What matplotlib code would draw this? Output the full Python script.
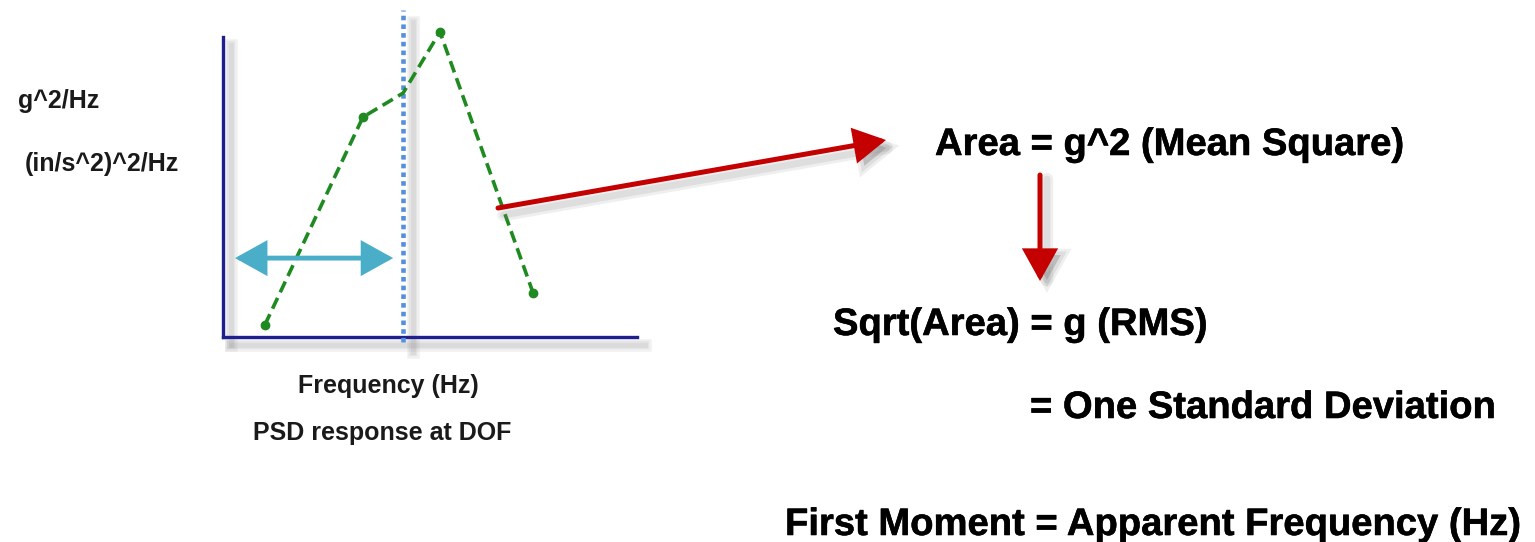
import matplotlib
matplotlib.use("Agg")
import matplotlib.pyplot as plt
import matplotlib.patheffects as pe

plt.rcParams['font.family'] = ['Liberation Sans', 'DejaVu Sans']
plt.rcParams['font.weight'] = 'bold'

# PSD response curve (arbitrary units, axis runs 0..100 on both scales)
freq = [10.1, 33.8, 43.5, 52.4, 74.9]
psd = [4.0, 73.3, 81.3, 101.7, 14.7]
marker_idx = [0, 1, 3, 4]
apparent_freq = 43.5          # dotted vertical line
band = [2.9, 41.1]            # double arrow span
band_level = 26.3

y_labels = ["g^2/Hz", "(in/s^2)^2/Hz"]
x_labels = ["Frequency (Hz)", "PSD response at DOF"]
notes = ["Area = g^2 (Mean Square)",
         "Sqrt(Area) = g (RMS)",
         "= One Standard Deviation",
         "First Moment = Apparent Frequency (Hz)"]


def shadow(dx=5, dy=-5, normal=True):
    # soft grey drop shadow made of a few stacked strokes
    fx = [pe.SimpleLineShadow(offset=(dx, dy), shadow_color='#7f7f7f',
                              alpha=0.10, linewidth=w) for w in (9, 6, 3.5)]
    return fx + [pe.Normal()] if normal else fx


def arrow_shadow(dx=4, dy=-4):
    return [pe.SimpleLineShadow(offset=(dx, dy), shadow_color='#7f7f7f', alpha=0.12, linewidth=9),
            pe.SimpleLineShadow(offset=(dx, dy), shadow_color='#7f7f7f', alpha=0.15, linewidth=5),
            pe.SimplePatchShadow(offset=(dx, dy), shadow_rgbFace='#7f7f7f', alpha=0.35),
            pe.Normal()]


W, H = 1535, 542
fig = plt.figure(figsize=(W / 100, H / 100), dpi=100)
fig.patch.set_facecolor('white')

# the small PSD sketch
ax = fig.add_axes([223 / W, 1 - 337 / H, (637 - 223) / W, (337 - 37) / H])
ax.set_xlim(0, 100)
ax.set_ylim(0, 100)
ax.set_xticks([])
ax.set_yticks([])
for side in ('top', 'right'):
    ax.spines[side].set_visible(False)
for side in ('left', 'bottom'):
    ax.spines[side].set_color('#1f1f8f')
    ax.spines[side].set_linewidth(2.4)
    ax.spines[side].set_path_effects(shadow(6, -6))

# shadow of the dotted line drawn as one solid stroke
ax.plot([apparent_freq, apparent_freq], [-3, 107], color='none', lw=3,
        clip_on=False, path_effects=shadow(7, -4, normal=False), zorder=2)
ax.plot([apparent_freq, apparent_freq], [-1.7, 109], color='#5590dc', lw=3.3,
        linestyle=(0, (1, 0.9)), dash_capstyle='butt', clip_on=False, zorder=3)

ax.plot(freq, psd, color='#1f8a1f', lw=2.6, linestyle=(0, (3.3, 1.7)),
        clip_on=False, zorder=4)
ax.plot([freq[i] for i in marker_idx], [psd[i] for i in marker_idx], 'o',
        color='#1f8a1f', ms=6, clip_on=False, zorder=4)

ax.annotate('', xy=(band[0], band_level), xytext=(band[1], band_level),
            arrowprops=dict(arrowstyle='<|-|>,head_length=0.9,head_width=0.5',
                            mutation_scale=20, color='#4aaec8', lw=3.5,
                            shrinkA=0, shrinkB=0, joinstyle='miter'), zorder=5)

# overlay in pixel units for labels and the red arrows
ov = fig.add_axes([0, 0, 1, 1])
ov.set_xlim(0, W)
ov.set_ylim(H, 0)
ov.axis('off')
ov.patch.set_visible(False)

small = 18
ov.text(18, 108, y_labels[0], fontsize=small, color='#1a1a1a', va='baseline')
ov.text(25, 171, y_labels[1], fontsize=small, color='#1a1a1a', va='baseline')
ov.text(388, 393, x_labels[0], fontsize=small, color='#1a1a1a', va='baseline', ha='center')
ov.text(382, 440, x_labels[1], fontsize=small, color='#1a1a1a', va='baseline', ha='center')

big = 27.5
heavy = [pe.withStroke(linewidth=0.4, foreground='black')]
ov.text(935, 155, notes[0], fontsize=big, color='black', va='baseline', path_effects=heavy)
ov.text(833, 335, notes[1], fontsize=big, color='black', va='baseline', path_effects=heavy)
ov.text(1030, 418, notes[2], fontsize=big, color='black', va='baseline', path_effects=heavy)
ov.text(785, 535, notes[3], fontsize=big, color='black', va='baseline', path_effects=heavy)

red = dict(arrowstyle='-|>,head_length=0.9,head_width=0.5', mutation_scale=20,
           color='#c40000', lw=3.6, shrinkA=0, shrinkB=0, joinstyle='miter')
a1 = ov.annotate('', xy=(886, 140), xytext=(498, 208), arrowprops=red)
a1.arrow_patch.set_path_effects(arrow_shadow(4, -5))
a2 = ov.annotate('', xy=(1040, 281), xytext=(1040, 175), arrowprops=red)
a2.arrow_patch.set_path_effects(arrow_shadow(5, -3))

fig.savefig('out.png', dpi=100, facecolor='white')
